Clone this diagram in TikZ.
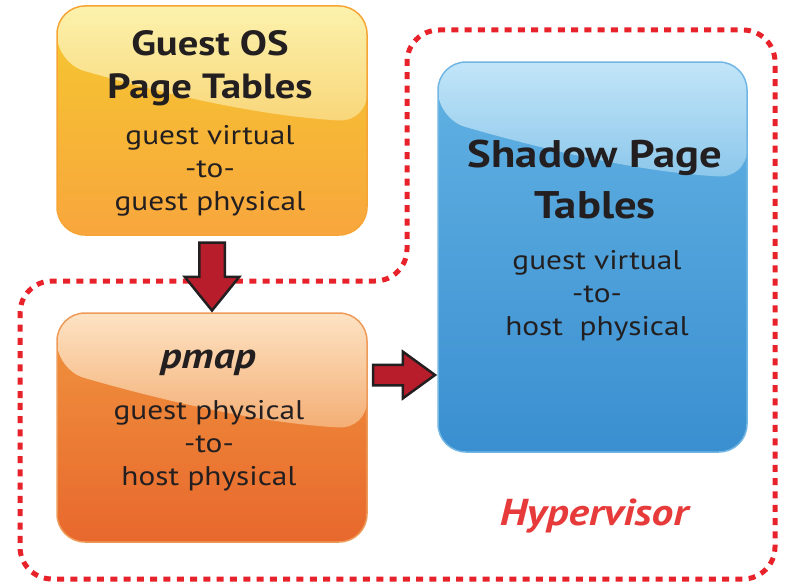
\documentclass[tikz,border=0pt]{standalone}
\usepackage{fontspec}
\setmainfont{PT Sans}[FakeStretch=1.16]
\usetikzlibrary{shapes.arrows,calc}

% palette
\definecolor{ink}{HTML}{231F20}
\definecolor{hvred}{HTML}{E8222B}
\definecolor{hvtext}{HTML}{E63B3A}
\definecolor{arrowfill}{HTML}{B81D2C}
% guest OS box
\definecolor{gyGlossTop}{HTML}{FBF2AC}
\definecolor{gyGlossBot}{HTML}{F9D67A}
\definecolor{gyTop}{HTML}{F5C92F}
\definecolor{gyBot}{HTML}{F8A63D}
\definecolor{gyLine}{HTML}{F6A535}
% pmap box
\definecolor{pmGlossTop}{HTML}{FDE3C4}
\definecolor{pmGlossBot}{HTML}{F4AE74}
\definecolor{pmTop}{HTML}{F0953F}
\definecolor{pmBot}{HTML}{E8682D}
\definecolor{pmLine}{HTML}{EE9A58}
% shadow box
\definecolor{shGlossTop}{HTML}{C2E5F8}
\definecolor{shGlossBot}{HTML}{8CC7EB}
\definecolor{shTop}{HTML}{62B2E3}
\definecolor{shBot}{HTML}{3A8FD0}
\definecolor{shLine}{HTML}{72B6E3}

\tikzset{
  tablebox/.style={rounded corners=28pt, inner sep=0pt, line width=1.5pt},
  gloss/.style n args={2}{path picture={
      \coordinate (gnw) at (path picture bounding box.north west);
      \coordinate (gne) at (path picture bounding box.north east);
      \shade[top color=#1, bottom color=#2]
        (gnw) -- ($(gnw)+(0,57)$)
        .. controls ($(gnw)+(100,86)$) and ($(gne)+(-110,110)$) .. ($(gne)+(0,116)$)
        -- (gne) -- cycle;
  }},
  % anchor=base of a multi-line node sits on the baseline of its last line
  titletext/.style={text=ink, align=center, anchor=base},
  bodytext/.style={text=ink, align=center, anchor=base,
    font=\fontsize{27}{33}\selectfont},
  hvborder/.style={draw=hvred, line width=5pt, dash pattern=on 7pt off 6.3pt,
    rounded corners=32pt},
  blockarrow/.style={single arrow, draw=ink, fill=arrowfill, line width=2.5pt,
    inner xsep=0pt, sloped, allow upside down},
}

\begin{document}
\begin{tikzpicture}[x=1pt,y=-1pt]
\useasboundingbox (0,0) rectangle (786,586);

% hypervisor boundary
\draw[hvborder] (20,430) -- (20,281) -- (407,281) -- (407,30)
  -- (775,30) -- (775,579) -- (20,579) -- cycle;

% the three table boxes
\node[tablebox, draw=gyLine, top color=gyTop, bottom color=gyBot,
  gloss={gyGlossTop}{gyGlossBot}, minimum width=310pt, minimum height=229pt]
  (guest) at (212,120.5) {};
\node[tablebox, draw=pmLine, top color=pmTop, bottom color=pmBot,
  gloss={pmGlossTop}{pmGlossBot}, minimum width=310pt, minimum height=229pt]
  (pmap) at (212,427.5) {};
\node[tablebox, draw=shLine, top color=shTop, bottom color=shBot,
  gloss={shGlossTop}{shGlossBot}, minimum width=309pt, minimum height=390pt]
  (shadow) at (592.5,257) {};

% box texts
\node[titletext, font=\fontsize{35}{43}\selectfont\bfseries] (guestTitle) at (210,98)
  {Guest OS\\Page Tables};
\node[bodytext] (guestBody) at (210,210) {guest virtual\\-to-\\guest physical};

\node[titletext, font=\fontsize{36}{43}\selectfont\bfseries\itshape] (pmapTitle) at (208,368)
  {pmap};
\node[bodytext] (pmapBody) at (209,485) {guest physical\\-to-\\host physical};

\node[titletext, font=\fontsize{38.5}{51}\selectfont\bfseries] (shadowTitle) at (595,218)
  {Shadow Page\\Tables};
\node[bodytext] (shadowBody) at (597,335) {guest virtual\\-to-\\host\ \ physical};

\node[anchor=base, text=hvtext, font=\fontsize{37.5}{40}\selectfont\bfseries\itshape]
  (hyper) at (594,525) {Hypervisor};

% block arrows between the tables (a single arrow's centre lies in its shaft)
\path (guest.south) -- node[blockarrow, pos=.43, minimum height=68pt,
  inner ysep=11.5pt, single arrow head extend=14.5pt, single arrow tip angle=78]
  (guestToPmap) {} (pmap.north);
\coordinate (feed) at ($(pmap.east)+(0,-52.5)$);
\path (feed) -- node[blockarrow, pos=.42, minimum height=62pt,
  inner ysep=9pt, single arrow head extend=13pt, single arrow tip angle=72]
  (pmapToShadow) {} (feed -| shadow.west);
\end{tikzpicture}
\end{document}
